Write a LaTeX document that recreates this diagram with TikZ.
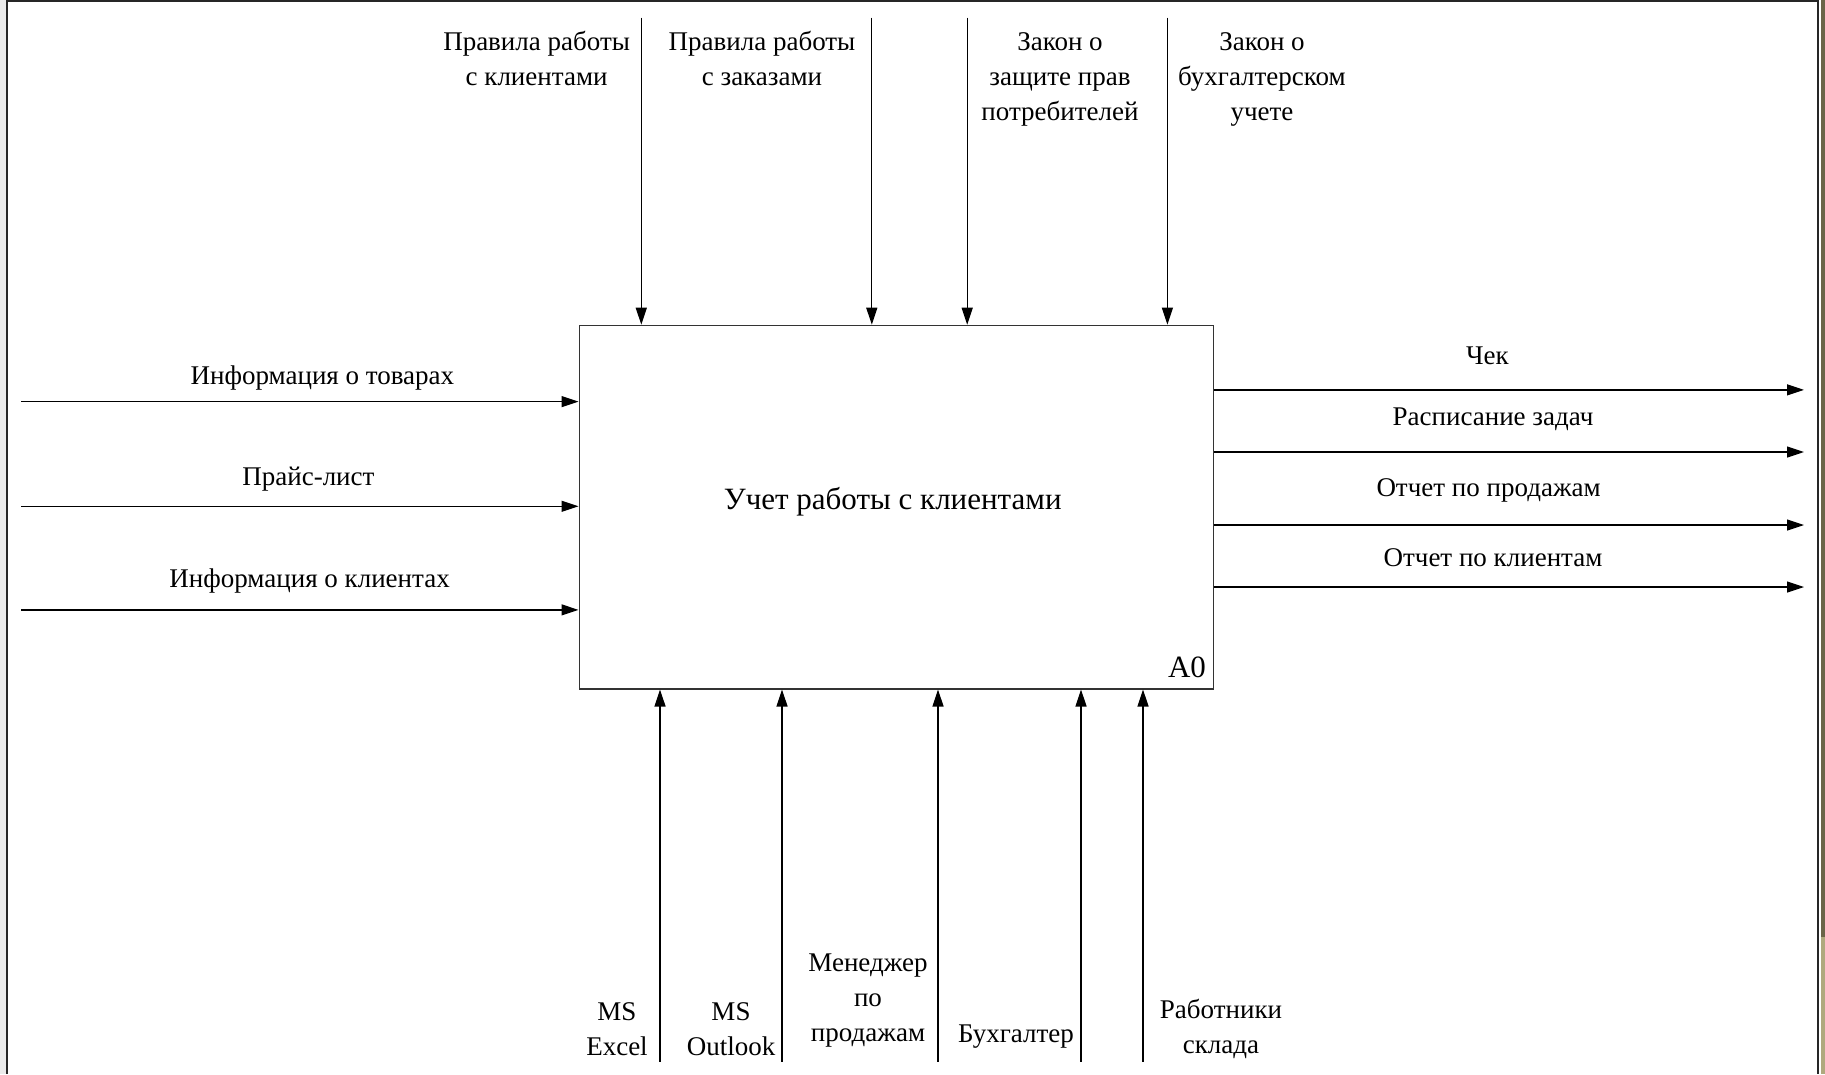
\documentclass[tikz,border=0pt]{standalone}
\usepackage{fontspec}
\setmainfont{Liberation Serif}
\usetikzlibrary{arrows.meta}
\definecolor{stripdark}{HTML}{6B6549}
\definecolor{striplight}{HTML}{B0A97E}
\begin{document}
\begin{tikzpicture}[x=1pt,y=-1pt,
  lbl/.style={font=\fontsize{27}{35}\selectfont, align=center, inner sep=0pt},
  flow/.style={draw=black, line width=1.2pt, -{Triangle[length=17pt,width=11pt]}},
  funcbox/.style={draw=black!80, line width=1.6pt, fill=white, inner sep=0pt,
    minimum width=634.3pt, minimum height=363.2pt, anchor=north west}]
\useasboundingbox (0,0) rectangle (1825,1074);
% window frame
\fill[white] (0,0) rectangle (1825,1074);
\fill[black!8] (0,0) rectangle (6,1074);
\draw[line width=2pt, black!85] (7,1074) -- (7,1) -- (1818,1) -- (1818,1074);
\fill[stripdark] (1820.5,0) rectangle (1825,937);
\fill[striplight] (1820.5,937) rectangle (1825,1074);

% function block
\node[funcbox] (A0) at (578.5,324.7) {};
\node[font=\fontsize{31}{36}\selectfont] (title) at (892.7,501.5) {Учет работы с клиентами};
\node[font=\fontsize{31}{36}\selectfont, inner sep=0pt] (num) at (1187,667) {A0};

% controls
\coordinate (c1) at (641.3,17.5);
\coordinate (c2) at (871.8,17.5);
\coordinate (c3) at (967.2,17.5);
\coordinate (c4) at (1167.4,17.5);
\foreach \c in {c1,c2,c3,c4} \draw[flow] (\c) -- (\c |- A0.north);
\node[lbl] (tc1) at (536.6,58.5) {Правила работы\\с клиентами};
\node[lbl] (tc2) at (762,58.5) {Правила работы\\с заказами};
\node[lbl] (tc3) at (1060,79.5) {Закон о\\защите прав\\потребителей};
\node[lbl] (tc4) at (1262,79.5) {Закон о\\бухгалтерском\\учете};

% inputs
\coordinate (i1) at (21,401.6);
\coordinate (i2) at (21,506.3);
\coordinate (i3) at (21,609.9);
\foreach \i in {i1,i2,i3} \draw[flow] (\i) -- (\i -| A0.west);
\node[lbl] (ti1) at (322.4,378) {Информация о товарах};
\node[lbl] (ti2) at (308.4,479.5) {Прайс-лист};
\node[lbl] (ti3) at (309.6,580.8) {Информация о клиентах};

% outputs
\coordinate (o1) at (1804,389.9);
\coordinate (o2) at (1804,452);
\coordinate (o3) at (1804,525);
\coordinate (o4) at (1804,587);
\foreach \o in {o1,o2,o3,o4} \draw[flow] (\o -| A0.east) -- (\o);
\node[lbl] (to1) at (1487.5,356) {Чек};
\node[lbl] (to2) at (1493,419) {Расписание задач};
\node[lbl] (to3) at (1488.6,490) {Отчет по продажам};
\node[lbl] (to4) at (1493,558) {Отчет по клиентам};

% mechanisms
\coordinate (m1) at (660,1061.5);
\coordinate (m2) at (782,1061.5);
\coordinate (m3) at (938,1061.5);
\coordinate (m4) at (1081,1061.5);
\coordinate (m5) at (1143,1061.5);
\foreach \m in {m1,m2,m3,m4,m5} \draw[flow] (\m) -- (\m |- A0.south);
\node[lbl] (tm1) at (617,1029) {MS\\Excel};
\node[lbl] (tm2) at (731,1029) {MS\\Outlook};
\node[lbl] (tm3) at (868,1001) {Менеджер\\по\\продажам};
\node[lbl] (tm4) at (1016,1036.5) {Бухгалтер};
\node[lbl] (tm5) at (1221,1029) {Работники\\склада};
\end{tikzpicture}
\end{document}
